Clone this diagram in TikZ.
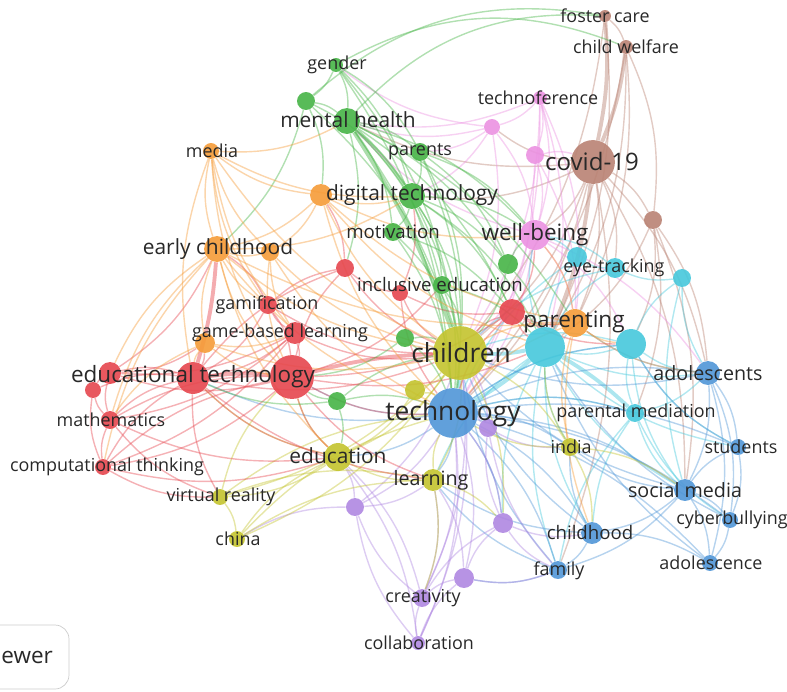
\documentclass[tikz,border=0pt]{standalone}
\usepackage{fontspec}
\setmainfont{Open Sans}
\usetikzlibrary{calc}
\definecolor{cred}{RGB}{230,70,78}
\definecolor{cgrn}{RGB}{70,180,70}
\definecolor{cblu}{RGB}{80,150,215}
\definecolor{cylw}{RGB}{195,195,45}
\definecolor{cpur}{RGB}{175,135,225}
\definecolor{ccyn}{RGB}{70,200,220}
\definecolor{corg}{RGB}{245,155,55}
\definecolor{cbrn}{RGB}{185,130,115}
\definecolor{cpnk}{RGB}{235,145,225}
\definecolor{txt}{RGB}{40,40,40}
\newcommand{\szA}{\fontsize{15}{17}\selectfont}
\newcommand{\szK}{\fontsize{13.7}{16}\selectfont}
\newcommand{\szB}{\fontsize{12.8}{15}\selectfont}
\newcommand{\szC}{\fontsize{11.9}{14}\selectfont}
\newcommand{\szE}{\fontsize{11.2}{13}\selectfont}
\newcommand{\szD}{\fontsize{10.6}{12}\selectfont}
\newcommand{\szS}{\fontsize{10.2}{12}\selectfont}
\pgfdeclarelayer{bg}
\pgfsetlayers{bg,main}
\tikzstyle{lbl} = [text=txt, inner sep=0pt]
\tikzset{kw/.style 2 args={circle, fill=#1, fill opacity=0.9, inner sep=0pt, minimum size={1.134pt*#2}},
  lnk/.style={draw=#1, line width=0.8pt, draw opacity=0.42},
  fat/.style={draw=#1, line width=2.2pt, draw opacity=0.45}}

\begin{document}
\begin{tikzpicture}[x=0.02cm, y=-0.02cm]
    \useasboundingbox (0,0) rectangle (787,691);
    % keyword nodes
    \node[kw={cbrn}{6}] (foster) at (605,16) {};
    \node[kw={cbrn}{7}] (welfare) at (626,47) {};
    \node[kw={cbrn}{22}] (covid) at (593,162) {};
    \node[kw={cbrn}{9}] (brwn) at (653,220) {};
    \node[kw={cpnk}{7}] (techno) at (540,98) {};
    \node[kw={cpnk}{8}] (pnkA) at (492,127) {};
    \node[kw={cpnk}{9}] (pnkB) at (535,155) {};
    \node[kw={cpnk}{15}] (wellb) at (535,235) {};
    \node[kw={ccyn}{10}] (cynA) at (577,257) {};
    \node[kw={ccyn}{10}] (eyetr) at (615,268) {};
    \node[kw={ccyn}{9}] (cynB) at (682,278) {};
    \node[kw={ccyn}{20}] (cynC) at (545,347) {};
    \node[kw={ccyn}{15}] (cynD) at (631,344) {};
    \node[kw={ccyn}{9}] (parmed) at (635,413) {};
    \node[kw={cblu}{12}] (adolts) at (708,373) {};
    \node[kw={cblu}{8}] (studs) at (738,447) {};
    \node[kw={cblu}{11}] (social) at (685,490) {};
    \node[kw={cblu}{8}] (cyber) at (730,520) {};
    \node[kw={cblu}{8}] (adolce) at (710,563) {};
    \node[kw={cblu}{11}] (childh) at (592,533) {};
    \node[kw={cblu}{9}] (family) at (558,570) {};
    \node[kw={cblu}{25}] (tech) at (453,413) {};
    \node[kw={cpur}{9}] (purA) at (488,428) {};
    \node[kw={cpur}{10}] (purB) at (503,523) {};
    \node[kw={cpur}{10}] (purC) at (464,578) {};
    \node[kw={cpur}{9}] (creat) at (422,598) {};
    \node[kw={cpur}{7}] (collab) at (418,643) {};
    \node[kw={cpur}{9}] (purD) at (355,507) {};
    \node[kw={cylw}{27}] (child) at (460,353) {};
    \node[kw={cylw}{10}] (ylwA) at (415,390) {};
    \node[kw={cylw}{9}] (india) at (570,447) {};
    \node[kw={cylw}{11}] (learn) at (433,480) {};
    \node[kw={cylw}{14}] (educ) at (338,457) {};
    \node[kw={cylw}{8}] (vr) at (220,497) {};
    \node[kw={cylw}{8}] (china) at (237,539) {};
    \node[kw={cred}{16}] (edtech) at (193,378) {};
    \node[kw={cred}{22}] (redA) at (292,377) {};
    \node[kw={cred}{11}] (redB) at (110,373) {};
    \node[kw={cred}{8}] (redC) at (93,390) {};
    \node[kw={cred}{9}] (math) at (110,420) {};
    \node[kw={cred}{8}] (comp) at (103,467) {};
    \node[kw={cred}{9}] (gamif) at (268,305) {};
    \node[kw={cred}{11}] (gbl) at (295,333) {};
    \node[kw={cred}{9}] (redD) at (345,268) {};
    \node[kw={cred}{8}] (redE) at (400,293) {};
    \node[kw={cred}{13}] (redF) at (512,312) {};
    \node[kw={cgrn}{7}] (gender) at (336,65) {};
    \node[kw={cgrn}{9}] (grnA) at (306,101) {};
    \node[kw={cgrn}{13}] (mental) at (347,121) {};
    \node[kw={cgrn}{9}] (parents) at (420,152) {};
    \node[kw={cgrn}{13}] (digit) at (412,196) {};
    \node[kw={cgrn}{9}] (motiv) at (393,232) {};
    \node[kw={cgrn}{9}] (incl) at (442,285) {};
    \node[kw={cgrn}{10}] (grnB) at (508,264) {};
    \node[kw={cgrn}{9}] (grnC) at (405,338) {};
    \node[kw={cgrn}{9}] (grnD) at (337,401) {};
    \node[kw={corg}{8}] (media) at (211,151) {};
    \node[kw={corg}{13}] (early) at (217,249) {};
    \node[kw={corg}{9}] (orgA) at (270,252) {};
    \node[kw={corg}{11}] (orgB) at (321,195) {};
    \node[kw={corg}{10}] (orgC) at (205,343) {};
    \node[kw={corg}{14}] (parent) at (575,323) {};

    % links
    \begin{pgfonlayer}{bg}
    \foreach \a/\b in {covid/cynC, welfare/covid, foster/covid}
        \draw[fat=cbrn] (\a) to[bend left=8] (\b);
    \foreach \a/\b in {cynC/child, cynC/tech, child/tech, cynC/parmed}
        \draw[fat=ccyn] (\a) to[bend left=6] (\b);
    \foreach \a/\b in {edtech/redA, redA/child, early/edtech}
        \draw[fat=cred] (\a) to[bend left=6] (\b);
    \foreach \a/\b in {mental/digit, mental/child}
        \draw[fat=cgrn] (\a) to[bend left=6] (\b);
    \foreach \a/\b in {foster/welfare, foster/cynC, welfare/brwn, welfare/cynC, welfare/parent, covid/brwn, covid/parent, covid/child, covid/wellb, covid/tech, covid/eyetr, covid/digit, covid/pnkA, brwn/cynD, brwn/adolts, brwn/parmed, brwn/cynC, brwn/social, covid/mental, covid/adolts, covid/social, welfare/tech, foster/child, covid/family}
        \draw[lnk=cbrn] (\a) to[bend left=15] (\b);
    \foreach \a/\b in {foster/mental, welfare/gender, foster/grnA}
        \draw[lnk=cgrn] (\a) to[bend right=25] (\b);
    \foreach \a/\b in {techno/pnkA, techno/wellb, techno/pnkB, techno/parent, techno/cynC, techno/child, pnkA/wellb, pnkA/mental, pnkA/digit, pnkA/child, pnkB/wellb, pnkB/covid, wellb/child, wellb/parent, wellb/tech, wellb/mental, pnkB/tech, pnkA/parents, wellb/cynD, wellb/adolts, techno/tech, pnkB/parent, techno/mental, pnkA/gender}
        \draw[lnk=cpnk] (\a) to[bend left=15] (\b);
    \foreach \a/\b in {wellb/cynC, cynC/parent, cynC/cynD, cynC/adolts, cynC/social, cynC/family, cynC/childh, cynA/eyetr, eyetr/cynB, cynA/cynC, eyetr/cynC, cynB/cynD, cynD/adolts, cynD/parmed, cynD/social, parmed/adolts, parmed/social, parmed/tech, parmed/childh, cynD/tech, cynB/adolts, cynD/child, eyetr/child, cynA/tech, cynC/india, cynC/learn, cynC/purB, cynC/studs, cynD/studs, parmed/family, parmed/cyber, eyetr/wellb, cynA/wellb, cynB/social}
        \draw[lnk=ccyn] (\a) to[bend right=15] (\b);
    \foreach \a/\b in {tech/adolts, tech/social, tech/childh, tech/family, tech/studs, tech/cyber, tech/learn, tech/educ, tech/edtech, tech/redA, adolts/studs, adolts/social, adolts/cyber, adolts/adolce, social/cyber, social/adolce, social/studs, social/childh, cyber/adolce, childh/family, childh/child, social/child, studs/cyber, family/child, adolts/child, tech/adolce, childh/adolce, tech/india, tech/parmed, tech/purB, family/purC, childh/india, social/india, social/family, adolts/parent, studs/cynD, cyber/cynC, adolce/cynC, family/learn, childh/learn, tech/cynD}
        \draw[lnk=cblu] (\a) to[bend left=15] (\b);
    \foreach \a/\b in {purA/tech, purA/child, purA/purB, purB/purC, purB/creat, purC/creat, purC/collab, creat/collab, purD/creat, purD/collab, purD/tech, purD/educ, purD/child, purC/tech, creat/tech, creat/child, purB/family, purC/family, collab/tech, purD/china, purB/tech, creat/learn, purA/india, purA/family, purB/childh, creat/educ, collab/educ, collab/child, purD/learn, purC/learn}
        \draw[lnk=cpur] (\a) to[bend right=15] (\b);
    \foreach \a/\b in {child/ylwA, child/educ, child/learn, child/india, child/vr, ylwA/tech, learn/educ, learn/tech, educ/vr, vr/china, china/educ, vr/redA, educ/redA, india/tech, india/cynC, educ/edtech, china/tech, vr/tech, india/childh, learn/purB, child/china, learn/creat, india/social, ylwA/educ, child/purB, vr/learn, china/learn}
        \draw[lnk=cylw] (\a) to[bend left=15] (\b);
    \foreach \a/\b in {edtech/redB, edtech/redC, edtech/math, edtech/comp, edtech/gamif, edtech/gbl, edtech/orgC, redA/gbl, redA/gamif, redA/tech, redA/math, redA/comp, redB/redC, redB/math, redC/math, math/comp, gamif/gbl, gbl/child, redD/redE, redD/redA, redE/child, redE/redF, redF/child, redF/cynC, redF/tech, redD/edtech, comp/vr, redB/gbl, redC/comp, redB/redA, edtech/child, redA/cynC, redE/tech, redD/child, redF/wellb, math/educ, edtech/learn, edtech/educ, redA/educ, redA/learn, comp/educ, comp/redA, math/vr, redB/orgC, redB/early, comp/gbl, edtech/vr, math/gbl, redA/incl, redD/orgB, redE/digit, redF/parent, redF/cynD, gamif/child, gamif/early, redA/redF, redD/gamif}
        \draw[lnk=cred] (\a) to[bend right=15] (\b);
    \foreach \a/\b in {gender/grnA, gender/mental, gender/parents, grnA/mental, mental/parents, mental/motiv, mental/tech, mental/wellb, parents/digit, parents/child, digit/motiv, digit/child, digit/tech, digit/incl, motiv/child, incl/child, incl/tech, grnB/child, grnB/wellb, grnC/child, grnD/tech, grnD/edtech, grnD/redA, grnA/orgB, gender/digit, grnA/child, mental/incl, parents/grnB, motiv/tech, digit/cynC, grnB/cynC, grnC/tech, mental/redF, gender/tech, mental/grnB, mental/redD, digit/redF, digit/wellb, digit/grnB, parents/wellb, parents/tech, grnA/digit, grnA/early, gender/child, motiv/redF, incl/cynC, grnC/redA, grnD/child, grnD/educ, mental/parent}
        \draw[lnk=cgrn] (\a) to[bend left=15] (\b);
    \foreach \a/\b in {media/early, media/orgB, media/edtech, media/child, early/orgA, early/orgB, early/orgC, early/child, early/tech, early/redA, orgA/orgB, orgB/digit, orgB/child, orgB/parent, orgC/edtech, orgC/redA, orgC/gbl, parent/child, parent/tech, parent/wellb, early/digit, orgA/redA, media/redA, early/gamif, orgA/child, orgB/tech, parent/cynD, media/digit, early/parent, media/mental, media/gamif, media/gbl, early/math, early/redB, early/comp, orgA/gbl, orgA/tech, orgC/math, orgC/child, orgB/wellb, orgB/cynC, parent/india, parent/childh, parent/adolts, early/educ, media/orgA}
        \draw[lnk=corg] (\a) to[bend right=15] (\b);
    \end{pgfonlayer}

    % labels
    \node[lbl, font=\szS] (fosterL) at (605,16) {foster care};
    \node[lbl, font=\szS] (welfareL) at (626,47) {child welfare};
    \node[lbl, font=\szK] (covidL) at (592,161) {covid-19};
    \node[lbl, font=\szS] (technoL) at (538,98) {technoference};
    \node[lbl, font=\szB] (wellbL) at (535,235) {well-being};
    \node[lbl, font=\szS] (eyetrL) at (614,268) {eye-tracking};
    \node[lbl, font=\szB] (parentL) at (574,322) {parenting};
    \node[lbl, font=\szS] (parmedL) at (636,413) {parental mediation};
    \node[lbl, font=\szE] (adoltsL) at (708,373) {adolescents};
    \node[lbl, font=\szS] (studsL) at (741,447) {students};
    \node[lbl, font=\szE] (socialL) at (685,490) {social media};
    \node[lbl, font=\szS] (cyberL) at (732,520) {cyberbullying};
    \node[lbl, font=\szS] (adolceL) at (711,563) {adolescence};
    \node[lbl, font=\szD] (childhL) at (590,533) {childhood};
    \node[lbl, font=\szS] (familyL) at (559,571) {family};
    \node[lbl, font=\szA] (techL) at (453,414) {technology};
    \node[lbl, font=\szA] (childL) at (461,353) {children};
    \node[lbl, font=\szS] (indiaL) at (571,447) {india};
    \node[lbl, font=\szE] (learnL) at (431,480) {learning};
    \node[lbl, font=\szC] (educL) at (338,456) {education};
    \node[lbl, font=\szS] (vrL) at (221,497) {virtual reality};
    \node[lbl, font=\szS] (chinaL) at (238,539) {china};
    \node[lbl, font=\szS] (creatL) at (423,598) {creativity};
    \node[lbl, font=\szS] (collabL) at (419,643) {collaboration};
    \node[lbl, font=\szB] (edtechL) at (193,377) {educational technology};
    \node[lbl, font=\szS] (mathL) at (111,420) {mathematics};
    \node[lbl, font=\szS] (compL) at (107,467) {computational thinking};
    \node[lbl, font=\szS] (gamifL) at (267,305) {gamification};
    \node[lbl, font=\szS] (gblL) at (280,333) {game-based learning};
    \node[lbl, font=\szD] (inclL) at (440,285) {inclusive education};
    \node[lbl, font=\szD] (motivL) at (393,232) {motivation};
    \node[lbl, font=\szC] (digitL) at (412,195) {digital technology};
    \node[lbl, font=\szS] (parentsL) at (420,152) {parents};
    \node[lbl, font=\szC] (mentalL) at (348,120) {mental health};
    \node[lbl, font=\szS] (genderL) at (337,65) {gender};
    \node[lbl, font=\szS] (mediaL) at (212,151) {media};
    \node[lbl, font=\szC] (earlyL) at (218,249) {early childhood};

    % logo box, cut at the left edge
    \draw[black!20, rounded corners=8pt] (-60,625) rectangle (69,689);
    \node[lbl, font=\szB, anchor=west] (logo) at (1,657) {ewer};
\end{tikzpicture}
\end{document}
